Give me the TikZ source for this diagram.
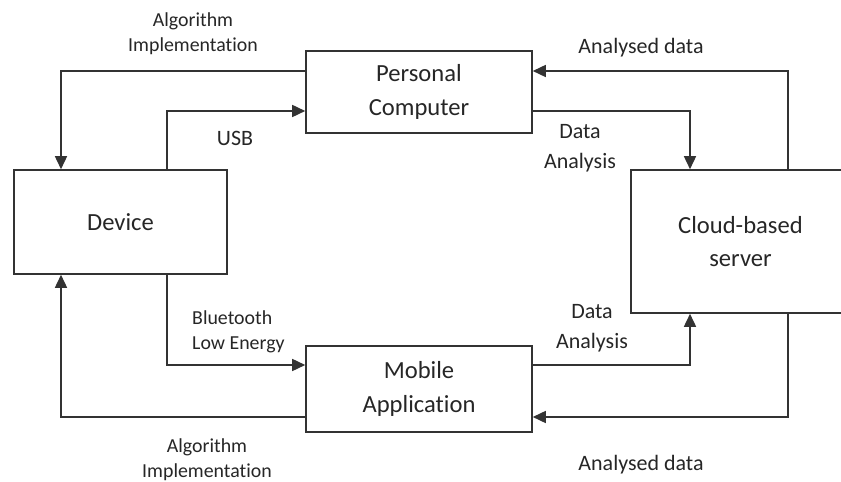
\documentclass[tikz,border=0pt]{standalone}
\usepackage{fontspec}
\setmainfont{Carlito}[Ligatures=NoCommon]
\usepackage{tikz}
\usetikzlibrary{arrows.meta,positioning,calc}

\begin{document}
\begin{tikzpicture}[>={Triangle[length=2.6mm,width=2.4mm]}, every node/.style={text=black!85}]
% styles
\tikzstyle{block}=[rectangle,draw=black!80,line width=0.9pt,align=center,font=\fontsize{14}{19}\selectfont]
\tikzstyle{link}=[->,draw=black!80,line width=0.9pt]
\tikzstyle{lbl}=[align=center,font=\fontsize{12.5}{17}\selectfont]
\tikzstyle{smalllbl}=[align=center,font=\fontsize{11.3}{14}\selectfont]

\useasboundingbox (0,0) rectangle (16.82,9.64);
\clip (0,0) rectangle (16.82,9.64);

% boxes
\node[block,minimum width=4.26cm,minimum height=2.08cm] (dev) at (2.41,5.2) {Device};
\node[block,minimum width=4.52cm,minimum height=1.64cm] (pc) at (8.38,7.8) {Personal\\Computer};
\node[block,minimum width=4.52cm,minimum height=1.72cm] (mob) at (8.38,1.86) {Mobile\\Application};
\node[block,minimum width=4.38cm,minimum height=2.86cm] (cloud) at (14.81,4.81) {Cloud-based\\server};

% upper links
\draw[link] ([yshift=0.42cm]pc.west) -| ([xshift=-1.19cm]dev.north);
\draw[link] ([xshift=0.93cm]dev.north) |- ([yshift=-0.38cm]pc.west);
\draw[link] ([yshift=-0.38cm]pc.east) -| ([xshift=-1.01cm]cloud.north);
\draw[link] ([xshift=0.95cm]cloud.north) |- ([yshift=0.42cm]pc.east);

% lower links
\draw[link] ([xshift=0.93cm]dev.south) |- ([yshift=0.48cm]mob.west);
\draw[link] ([yshift=-0.56cm]mob.west) -| ([xshift=-1.19cm]dev.south);
\draw[link] ([yshift=0.48cm]mob.east) -| ([xshift=-1.01cm]cloud.south);
\draw[link] ([xshift=0.95cm]cloud.south) |- ([yshift=-0.56cm]mob.east);

% labels
\node[smalllbl] (impltop) at (3.86,8.96) {Algorithm\\Implementation};
\node[lbl] (usb) at (4.70,6.88) {USB};
\node[lbl] (anatop) at (12.82,8.68) {Analysed data};
\node[lbl] (datatop) at (11.6,6.68) {Data\\Analysis};
\node[smalllbl,anchor=west,align=left] (ble) at (3.72,3.0) {Bluetooth\\Low Energy};
\node[smalllbl] (implbot) at (4.14,0.44) {Algorithm\\Implementation};
\node[lbl] (databot) at (11.84,3.08) {Data\\Analysis};
\node[lbl] (anabot) at (12.82,0.34) {Analysed data};

\end{tikzpicture}
\end{document}
